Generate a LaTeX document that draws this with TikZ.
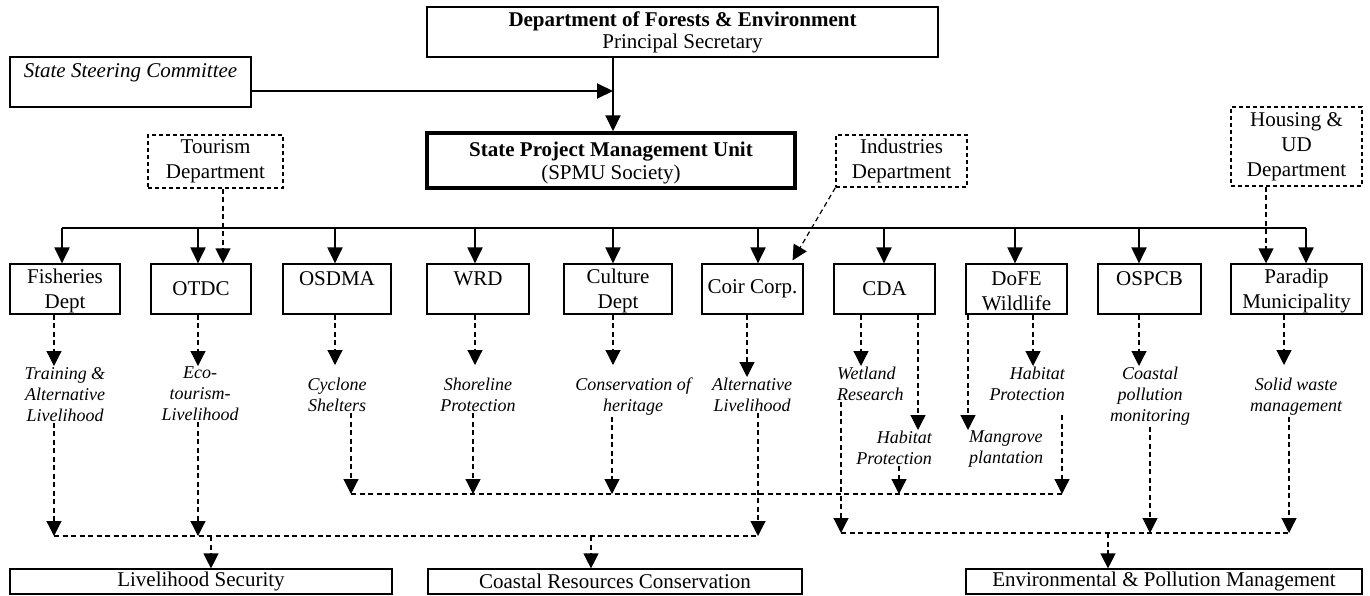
\documentclass[tikz,border=0pt]{standalone}
\usepackage{fontspec}
\setmainfont{Liberation Serif}
\usetikzlibrary{arrows.meta,calc}
\begin{document}
\begin{tikzpicture}[x=1pt,y=-1pt,
  bx/.style={draw, line width=1.2pt, inner sep=0pt, align=center, font={\fontsize{21}{25}\selectfont}},
  dbx/.style={bx, dash pattern=on 4pt off 3pt},
  mid/.style={bx, minimum height=50pt},
  topt/.style={text height=14pt, text depth=22pt},
  bot/.style={bx, minimum height=25pt},
  lab/.style={inner sep=1pt, align=center, font={\fontsize{18}{21}\selectfont\itshape}},
  sarr/.style={line width=2pt, -{Triangle[length=16pt,width=15pt]}},
  darr/.style={line width=1.2pt, dash pattern=on 5pt off 3.5pt, -{Triangle[length=15pt,width=15pt]}},
  dln/.style={line width=1.2pt, dash pattern=on 5pt off 3.5pt}
]
\useasboundingbox (0,0) rectangle (1370,595);

% top level
\node[bx, minimum width=511pt, minimum height=50pt, font={\fontsize{21}{22}\selectfont}] (dept) at (682.5,32)
  {\textbf{Department of Forests \& Environment}\\Principal Secretary};
\node[bx, minimum width=241pt, minimum height=50pt, text height=13pt, text depth=23pt,
  font={\fontsize{21}{24}\selectfont\itshape}] (ssc) at (130.5,82) {State Steering Committee};
\node[bx, line width=3.5pt, minimum width=368pt, minimum height=55pt, font={\fontsize{21}{23}\selectfont}] (spmu) at (611,160.5)
  {\rule{0pt}{19pt}\textbf{State Project Management Unit}\\(SPMU Society)};

\coordinate (join) at (613,91);
\draw[sarr] (ssc.east |- join) -- (join);
\draw[sarr] (dept.south -| join) -- (join |- spmu.north);

% outside departments
\node[dbx, minimum width=135pt, minimum height=53pt] (tour) at (215.5,161.5) {Tourism\\Department};
\node[dbx, minimum width=131pt, minimum height=52pt] (ind) at (901.5,161) {Industries\\Department};
\node[dbx, minimum width=131pt, minimum height=79pt] (hous) at (1296.5,146.5) {Housing \&\\UD\\Department};

% implementing agencies
\node[mid, minimum width=110pt] (fish) at (65,289) {\rule{0pt}{19pt}Fisheries\\Dept};
\node[mid, minimum width=100pt] (otdc) at (201,289) {OTDC};
\node[mid, topt, minimum width=108pt] (osdma) at (337,289) {OSDMA};
\node[mid, topt, minimum width=102pt] (wrd) at (478,289) {WRD};
\node[mid, minimum width=108pt] (cult) at (618,289) {\rule{0pt}{19pt}Culture\\Dept};
\node[mid, minimum width=101pt] (coir) at (752.5,289) {Coir Corp.};
\node[mid, minimum width=101pt] (cda) at (884.5,289) {CDA};
\node[mid, minimum width=101pt] (wild) at (1016.5,289) {\rule{0pt}{19pt}DoFE\\Wildlife};
\node[mid, topt, minimum width=103pt] (ospcb) at (1149.5,289) {OSPCB};
\node[mid, minimum width=131pt] (para) at (1296.5,289) {\rule{0pt}{19pt}Paradip\\Municipality};

% distribution bus
\foreach \n/\x in {fish/62, otdc/198, osdma/335, wrd/475, cult/613, coir/758, cda/884, wild/1015, ospcb/1139, para/1306}{
  \coordinate (s\n) at (\x,228);
  \draw[sarr] (s\n) -- (s\n |- \n.north);
}
\draw[line width=2pt] (sfish) -- (spara);

\coordinate (tx) at (223,200);
\draw[darr] (tour.south -| tx) -- (tx |- otdc.north);
\coordinate (hx) at (1266,200);
\draw[darr] (hous.south -| hx) -- (hx |- para.north);
\draw[darr] (ind.south west) -- ($(coir.north east)+(-11,-3)$);

% activity labels
\node[lab, anchor=north] (lTrain) at (65,366) {Training \&\\Alternative\\Livelihood};
\node[lab, anchor=north] (lEco) at (200,366) {Eco-\\tourism-\\Livelihood};
\node[lab, anchor=north] (lCyc) at (337,377) {Cyclone\\Shelters};
\node[lab, anchor=north] (lShore) at (478,377) {Shoreline\\Protection};
\node[lab, anchor=north] (lCons) at (633,377) {Conservation of\\heritage};
\node[lab, anchor=north] (lAlt) at (752,377) {Alternative\\Livelihood};
\node[lab, anchor=north west, align=left] (lWet) at (836,366) {Wetland\\Research};
\node[lab, anchor=north east, align=right] (lHabA) at (933,430) {Habitat\\Protection};
\node[lab, anchor=north west, align=left] (lMang) at (968,430) {Mangrove\\plantation};
\node[lab, anchor=north east, align=right] (lHabB) at (1066,366) {Habitat\\Protection};
\node[lab, anchor=north] (lCoast) at (1150,366) {Coastal\\pollution\\monitoring};
\node[lab, anchor=north] (lSolid) at (1296,377) {Solid waste\\management};

\foreach \n/\l/\x/\s in {fish/lTrain/54/0, otdc/lEco/198/0, osdma/lCyc/335/12, wrd/lShore/475/12,
  cult/lCons/613/12, coir/lAlt/747/0, cda/lWet/861/0, cda/lHabA/918/0, wild/lMang/968/0,
  wild/lHabB/1033/0, ospcb/lCoast/1139/0, para/lSolid/1284/12}{
  \coordinate (a\l) at (\x,340);
  \draw[darr, shorten >=\s pt] (\n.south -| a\l) -- (a\l |- \l.north);
}

% collection buses
\coordinate (busM) at (0,494);
\coordinate (busLL) at (0,536);
\coordinate (busR) at (0,533);
\foreach \l/\x/\b/\s in {lTrain/54/LL/0, lEco/198/LL/0, lCyc/351/M/0, lShore/473/M/0, lCons/612/M/0,
  lAlt/758/LL/0, lWet/841/R/0, lHabA/899/M/0, lHabB/1062/M/13, lCoast/1150/R/0, lSolid/1289/R/0}{
  \coordinate (d\l) at (\x,480);
  \draw[darr, shorten <=\s pt] (\l.south -| d\l) -- (d\l |- bus\b);
}
\draw[dln] (dlCyc |- busM) -- (dlHabB |- busM);
\draw[dln] (dlTrain |- busLL) -- (dlAlt |- busLL);
\draw[dln] (dlWet |- busR) -- (dlSolid |- busR);

% outcomes
\node[bot, minimum width=382pt] (botL) at (201,581.5) {Livelihood Security};
\node[bot, minimum width=374pt] (botM) at (615,581.5) {Coastal Resources Conservation};
\node[bot, minimum width=396pt] (botR) at (1164,581.5) {Environmental \& Pollution Management};

\coordinate (e1) at (211,550);
\coordinate (e2) at (591,550);
\coordinate (e3) at (1108,550);
\draw[darr] (e1 |- busLL) -- (e1 |- botL.north);
\draw[darr] (e2 |- busLL) -- (e2 |- botM.north);
\draw[darr] (e3 |- busR) -- (e3 |- botR.north);
\end{tikzpicture}
\end{document}
